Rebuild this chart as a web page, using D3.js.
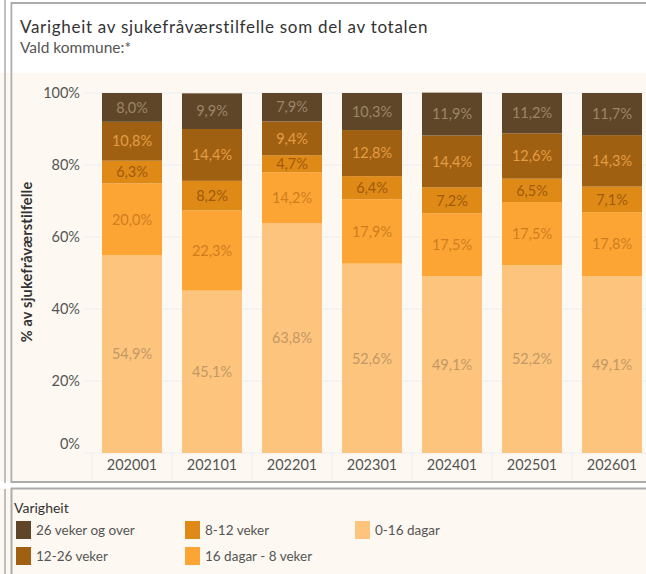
<!DOCTYPE html>
<html>
<head>
<meta charset="utf-8">
<script src="https://cdn.jsdelivr.net/npm/d3@7"></script>
<style>
  body { margin: 0; background: #fff; }
  svg { display: block; }
</style>
</head>
<body>
<div id="chart"></div>
<script>
// periodar (x-aksen)
var periods = ["202001", "202101", "202201", "202301", "202401", "202501", "202601"];

// varigheit, nedst til øvst i stabelen
var durations = ["0-16 dagar", "16 dagar - 8 veker", "8-12 veker", "12-26 veker", "26 veker og over"];

// prosentdel per periode, ei liste per varigheit
var share0to16d = [54.9, 45.1, 63.8, 52.6, 49.1, 52.2, 49.1];
var share16dTo8w = [20.0, 22.3, 14.2, 17.9, 17.5, 17.5, 17.8];
var share8to12w = [6.3, 8.2, 4.7, 6.4, 7.2, 6.5, 7.1];
var share12to26w = [10.8, 14.4, 9.4, 12.8, 14.4, 12.6, 14.3];
var share26wPlus = [8.0, 9.9, 7.9, 10.3, 11.9, 11.2, 11.7];

var yTicks = [0, 20, 40, 60, 80, 100];

// rekkjefølgje i forklaringa
var legendOrder = ["26 veker og over", "8-12 veker", "0-16 dagar", "12-26 veker", "16 dagar - 8 veker"];

var fillColors = ["#fdc47d", "#fca534", "#df8a17", "#a06011", "#5f4628"];
var labelColors = ["#c39864", "#cf7d1e", "#9e5a0c", "#e59d44", "#9b8568"];

var W = 646, H = 574;
var font = "Lato, 'Noto Sans', sans-serif";
var cream = "#fdf8f1";
var border = "#ababab";

var svg = d3.select("#chart").append("svg")
    .attr("width", W)
    .attr("height", H);

// bakgrunn og panel
svg.append("rect").attr("x", 0).attr("y", 73).attr("width", W).attr("height", 408).attr("fill", cream);
svg.append("rect").attr("x", 0).attr("y", 488).attr("width", W).attr("height", 86).attr("fill", cream);

// venstre smal stripe
svg.append("line").attr("x1", 5).attr("x2", 5).attr("y1", 0).attr("y2", 483)
    .attr("stroke", border).attr("stroke-width", 1.5);
svg.append("line").attr("x1", 5).attr("x2", 5).attr("y1", 489).attr("y2", H)
    .attr("stroke", border).attr("stroke-width", 1.5);

// hovudpanel
svg.append("path")
    .attr("d", "M" + W + ",3 H11.5 V482 H" + W)
    .attr("fill", "none").attr("stroke", border).attr("stroke-width", 2);
svg.append("rect").attr("x", 12.5).attr("y", 4).attr("width", W).attr("height", 69).attr("fill", "#fff");
svg.append("rect").attr("x", 12.5).attr("y", 73).attr("width", W).attr("height", 408).attr("fill", cream);

// forklaringspanel
svg.append("path")
    .attr("d", "M" + W + ",488.5 H11.5 V" + H)
    .attr("fill", "none").attr("stroke", border).attr("stroke-width", 2);

// tittel
svg.append("text")
    .attr("x", 20).attr("y", 33)
    .attr("font-family", font).attr("font-size", "17px").attr("letter-spacing", "0.7px").attr("fill", "#333")
    .text("Varigheit av sjukefråværstilfelle som del av totalen");
svg.append("text")
    .attr("x", 20).attr("y", 53)
    .attr("font-family", font).attr("font-size", "15.5px").attr("fill", "#555")
    .text("Vald kommune:*");

// skalaer
var x = d3.scaleBand()
    .domain(periods)
    .range([92, 652])
    .paddingInner(0.25)
    .paddingOuter(0.125);

var y = d3.scaleLinear()
    .domain([0, 100])
    .range([453, 93]);

// rutenett
svg.append("g")
    .selectAll("line")
    .data(yTicks)
    .enter()
    .append("line")
    .attr("x1", 84).attr("x2", W)
    .attr("y1", function (d) { return y(d); })
    .attr("y2", function (d) { return y(d); })
    .attr("stroke", "#eceef1").attr("stroke-width", 1);

// y-akse
var yAxis = svg.append("g")
    .attr("transform", "translate(84,0)")
    .call(d3.axisLeft(y).tickValues(yTicks).tickFormat(function (d) { return d + "%"; }).tickSize(0).tickPadding(4));
yAxis.select(".domain").remove();
yAxis.selectAll("text")
    .attr("font-family", font).attr("font-size", "14.5px").attr("fill", "#555")
    .attr("dy", function (d) { return d === 0 ? "-0.3em" : "0.32em"; });

svg.append("text")
    .attr("transform", "translate(32,262) rotate(-90)")
    .attr("text-anchor", "middle")
    .attr("font-family", font).attr("font-size", "14.5px").attr("font-weight", "bold")
    .attr("letter-spacing", "0.2px").attr("fill", "#333")
    .text("% av sjukefråværstilfelle");

// skiljeliner i x-aksen
svg.append("g")
    .selectAll("line")
    .data(periods)
    .enter()
    .append("line")
    .attr("x1", function (d) { return x(d) - x.step() * 0.125; })
    .attr("x2", function (d) { return x(d) - x.step() * 0.125; })
    .attr("y1", 453).attr("y2", 479)
    .attr("stroke", "#eceef1");

// x-akse
var xAxis = svg.append("g")
    .attr("transform", "translate(0,453)")
    .call(d3.axisBottom(x).tickSize(0).tickPadding(7));
xAxis.select(".domain").remove();
xAxis.selectAll("text")
    .attr("font-family", font).attr("font-size", "14.5px").attr("fill", "#555");

// stabla data
var seriesValues = [share0to16d, share16dTo8w, share8to12w, share12to26w, share26wPlus];
var rows = periods.map(function (p, i) {
    var row = { period: p };
    durations.forEach(function (k, j) { row[k] = seriesValues[j][i]; });
    return row;
});
var stacked = d3.stack().keys(durations)(rows);

var nf = d3.formatLocale({ decimal: ",", thousands: " ", grouping: [3], currency: ["", " kr"] }).format(".1f");

var layers = svg.append("g")
    .selectAll("g")
    .data(stacked)
    .enter()
    .append("g");

layers.each(function (s, si) {
    var layer = d3.select(this);
    layer.selectAll("rect")
        .data(s)
        .enter()
        .append("rect")
        .attr("x", function (d) { return x(d.data.period); })
        .attr("width", x.bandwidth())
        .attr("y", function (d) { return y(d[1]); })
        .attr("height", function (d) { return y(d[0]) - y(d[1]); })
        .attr("fill", fillColors[si]);

    layer.selectAll("text")
        .data(s)
        .enter()
        .append("text")
        .attr("x", function (d) { return x(d.data.period) + x.bandwidth() / 2; })
        .attr("y", function (d) { return (y(d[0]) + y(d[1])) / 2; })
        .attr("dy", "0.36em")
        .attr("text-anchor", "middle")
        .attr("font-family", font).attr("font-size", "14.5px")
        .attr("fill", labelColors[si])
        .text(function (d) { return nf(d.data[s.key]) + "%"; });
});

// forklaring
svg.append("text")
    .attr("x", 14).attr("y", 513)
    .attr("font-family", font).attr("font-size", "14px").attr("fill", "#333")
    .text("Varigheit");

var legendX = [16, 185, 355];
var legend = svg.append("g")
    .selectAll("g")
    .data(legendOrder)
    .enter()
    .append("g")
    .attr("transform", function (d, i) {
        var col = i < 3 ? i : i - 3;
        var row = i < 3 ? 0 : 1;
        return "translate(" + legendX[col] + "," + (521 + row * 26) + ")";
    });
legend.append("rect")
    .attr("width", 15).attr("height", 18)
    .attr("fill", function (d) { return fillColors[durations.indexOf(d)]; });
legend.append("text")
    .attr("x", 20).attr("y", 14)
    .attr("font-family", font).attr("font-size", "13.5px").attr("fill", "#555")
    .text(function (d) { return d; });
</script>
</body>
</html>
